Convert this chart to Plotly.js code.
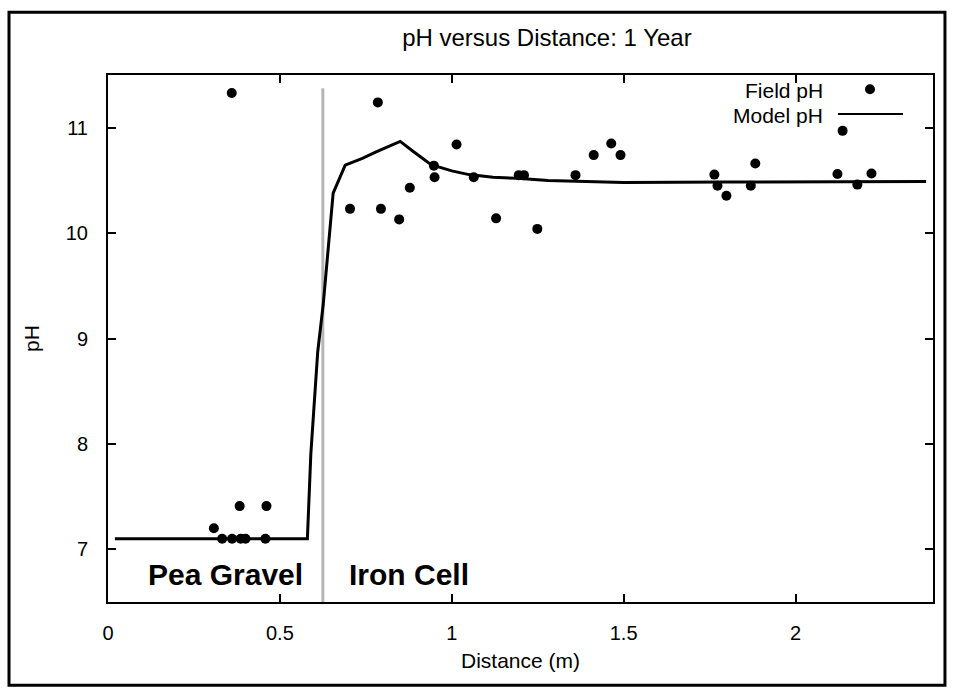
<!DOCTYPE html>
<html>
<head>
<meta charset="utf-8">
<script src="https://cdn.plot.ly/plotly-3.0.1.min.js"></script>
<style>html,body{margin:0;padding:0;background:#fff;}#chart{width:953px;height:690px;}</style>
</head>
<body>
<div id="chart"></div>
<script>
// Field measurements
const fieldX = [0.36, 0.308, 0.332, 0.361, 0.383, 0.386, 0.40, 0.458, 0.461,
  0.704, 0.785, 0.794, 0.847, 0.878, 0.948, 0.95, 1.014, 1.064, 1.129, 1.195, 1.21, 1.249,
  1.36, 1.413, 1.464, 1.491, 1.764, 1.773, 1.799, 1.87, 1.883, 2.122, 2.137, 2.18, 2.221];
const fieldY = [11.33, 7.2, 7.1, 7.1, 7.41, 7.1, 7.1, 7.1, 7.41,
  10.23, 11.24, 10.23, 10.13, 10.43, 10.64, 10.53, 10.84, 10.53, 10.14, 10.55, 10.55, 10.04,
  10.55, 10.74, 10.85, 10.74, 10.555, 10.45, 10.355, 10.45, 10.66, 10.56, 10.97, 10.46, 10.565];
// Model curve
const modelX = [0.02, 0.58, 0.59, 0.61, 0.626, 0.647, 0.655, 0.69, 0.74, 0.78, 0.85, 0.89, 0.94,
  1.0, 1.05, 1.12, 1.19, 1.28, 1.5, 1.8, 2.1, 2.38];
const modelY = [7.1, 7.1, 7.9, 8.87, 9.32, 10.14, 10.38, 10.645, 10.71, 10.77, 10.87, 10.77, 10.65,
  10.59, 10.555, 10.53, 10.52, 10.5, 10.48, 10.485, 10.49, 10.49];
// Ticks
const xTickVals = [0, 0.5, 1, 1.5, 2];
const xTickText = ['0', '0.5', '1', '1.5', '2'];
const yTickVals = [7, 8, 9, 10, 11];
const yTickText = ['7', '8', '9', '10', '11'];
// Zone labels and boundary
const boundaryX = 0.625;
const zoneNames = ['Pea Gravel', 'Iron Cell'];
const zoneX = [0.342, 0.875];
const zoneY = [6.76, 6.76];
const legendNames = ['Field pH', 'Model pH'];

const FONT = '"Liberation Sans", Arial, Helvetica, sans-serif';

const traces = [
  {x: modelX, y: modelY, mode: 'lines', name: legendNames[1],
   line: {color: '#000', width: 3}, showlegend: false, hoverinfo: 'x+y'},
  {x: fieldX, y: fieldY, mode: 'markers', name: legendNames[0],
   marker: {color: '#000', size: 10, symbol: 'circle'}, showlegend: false, hoverinfo: 'x+y'}
];

const annotations = zoneNames.map((t, i) => ({
  x: zoneX[i], y: zoneY[i], xref: 'x', yref: 'y', text: '<b>' + t + '</b>', showarrow: false,
  xanchor: 'center', yanchor: 'middle', font: {family: FONT, size: 30, color: '#000'}
}));
annotations.push({x: 0.869, y: 0.9715, xref: 'paper', yref: 'paper', text: legendNames[0],
  showarrow: false, xanchor: 'right', yanchor: 'middle', font: {family: FONT, size: 21, color: '#000'}});
annotations.push({x: 0.869, y: 0.924, xref: 'paper', yref: 'paper', text: legendNames[1],
  showarrow: false, xanchor: 'right', yanchor: 'middle', font: {family: FONT, size: 21, color: '#000'}});

const shapes = [
  // boundary band
  {type: 'line', xref: 'x', yref: 'paper', x0: boundaryX, x1: boundaryX, y0: 0, y1: 0.975,
   line: {color: '#b5b5b5', width: 3}, layer: 'below'},
  // legend symbols
  {type: 'circle', xref: 'paper', yref: 'paper', x0: 0.9176, x1: 0.9297, y0: 0.9635, y1: 0.9825,
   fillcolor: '#000', line: {color: '#000', width: 0}},
  {type: 'line', xref: 'paper', yref: 'paper', x0: 0.8848, x1: 0.9636, y0: 0.926, y1: 0.926,
   line: {color: '#000', width: 2}},
  // outer frame
  {type: 'rect', xref: 'paper', yref: 'paper', x0: -0.12, x1: 1.0145, y0: -0.158, y1: 1.119,
   line: {color: '#000', width: 3}, fillcolor: 'rgba(0,0,0,0)'}
];

const axisCommon = {
  showline: true, linecolor: '#000', linewidth: 2, mirror: 'ticks',
  ticks: 'inside', ticklen: 8, tickwidth: 2, tickcolor: '#000',
  showgrid: false, zeroline: false,
  tickfont: {family: FONT, size: 20, color: '#000'}
};

const layout = {
  width: 953, height: 690,
  margin: {l: 108, r: 20, t: 75, b: 88, pad: 0},
  paper_bgcolor: '#fff', plot_bgcolor: '#fff',
  font: {family: FONT, color: '#000'},
  title: {text: 'pH versus Distance: 1 Year', x: 0.532, xref: 'paper', xanchor: 'center',
          y: 40, yref: 'container', yanchor: 'middle',
          font: {family: FONT, size: 24, color: '#000'}},
  xaxis: Object.assign({}, axisCommon, {
    range: [0, 2.4], tickvals: xTickVals, ticktext: xTickText, ticklabelstandoff: 12,
    title: {text: 'Distance (m)', font: {family: FONT, size: 21, color: '#000'}, standoff: 10}
  }),
  yaxis: Object.assign({}, axisCommon, {
    range: [6.5, 11.5], tickvals: yTickVals, ticktext: yTickText, ticklabelstandoff: 14,
    title: {text: 'pH', font: {family: FONT, size: 21, color: '#000'}, standoff: 20}
  }),
  annotations: annotations,
  shapes: shapes,
  showlegend: false
};

Plotly.newPlot('chart', traces, layout, {displayModeBar: false, staticPlot: true});
</script>
</body>
</html>
